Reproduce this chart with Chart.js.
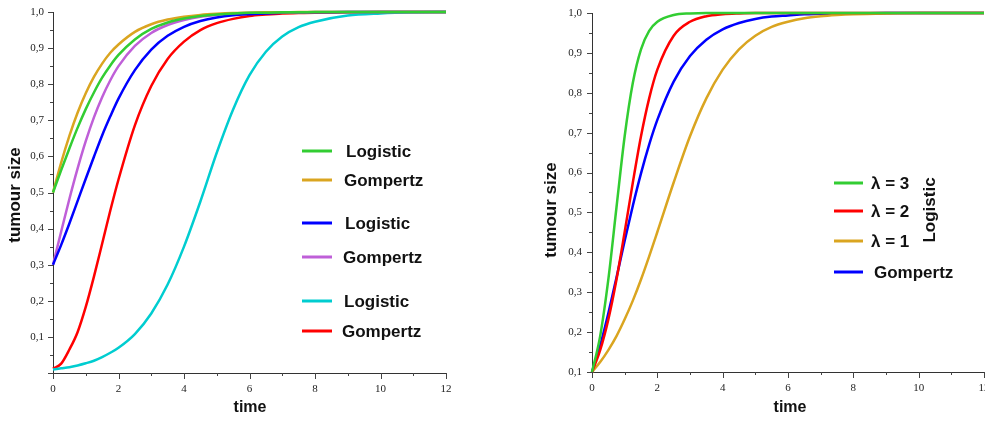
<!DOCTYPE html>
<html>
<head>
<meta charset="utf-8">
<script src="https://cdn.jsdelivr.net/npm/chart.js@4/dist/chart.umd.min.js"></script>
<style>
  html, body { margin: 0; padding: 0; background: #fff; }
  #wrap { position: relative; width: 985px; height: 421px; overflow: hidden; }
  canvas { position: absolute; top: 0; }
  #leftChart { left: 0; }
  #rightChart { left: 492px; }
</style>
</head>
<body>
<div id="wrap">
  <canvas id="leftChart" width="492" height="421"></canvas>
  <canvas id="rightChart" width="493" height="421"></canvas>
</div>
<script>
// ===== Data =====
const time = [0, 0.25, 0.5, 0.75, 1, 1.25, 1.5, 1.75, 2, 2.5, 3, 3.5, 4, 4.5, 5, 5.5, 6, 6.5, 7, 7.5, 8, 9, 10, 11, 12];

// left panel: three starting sizes, logistic vs gompertz
const logistic05 = [0.5, 0.562, 0.622, 0.679, 0.731, 0.777, 0.818, 0.852, 0.881, 0.924, 0.953, 0.971, 0.982, 0.989, 0.993, 0.996, 0.998, 0.998, 0.999, 0.999, 1, 1, 1, 1, 1];
const gompertz05 = [0.5, 0.583, 0.657, 0.721, 0.775, 0.820, 0.857, 0.887, 0.910, 0.945, 0.966, 0.979, 0.987, 0.992, 0.995, 0.997, 0.998, 0.999, 0.999, 1, 1, 1, 1, 1, 1];
const logistic03 = [0.3, 0.355, 0.414, 0.476, 0.538, 0.599, 0.658, 0.711, 0.760, 0.839, 0.896, 0.934, 0.959, 0.975, 0.985, 0.991, 0.994, 0.996, 0.998, 0.999, 0.999, 1, 1, 1, 1];
const gompertz03 = [0.3, 0.392, 0.482, 0.566, 0.642, 0.708, 0.764, 0.811, 0.850, 0.906, 0.942, 0.964, 0.978, 0.987, 0.992, 0.995, 0.997, 0.998, 0.999, 0.999, 1, 1, 1, 1, 1];
const logistic001 = [0.010, 0.013, 0.016, 0.021, 0.027, 0.034, 0.044, 0.056, 0.070, 0.108, 0.165, 0.245, 0.35, 0.475, 0.61, 0.73, 0.825, 0.89, 0.932, 0.958, 0.973, 0.99, 0.996, 0.999, 1];
const gompertz001 = [0.012, 0.026, 0.065, 0.113, 0.183, 0.267, 0.358, 0.450, 0.536, 0.686, 0.795, 0.870, 0.918, 0.950, 0.969, 0.981, 0.989, 0.993, 0.996, 0.997, 0.998, 0.999, 1, 1, 1];

// right panel: logistic with different lambda vs gompertz
const lambda3 = [0.1, 0.190, 0.332, 0.513, 0.691, 0.825, 0.909, 0.955, 0.978, 0.995, 0.999, 1, 1, 1, 1, 1, 1, 1, 1, 1, 1, 1, 1, 1, 1];
const lambda2 = [0.1, 0.155, 0.232, 0.332, 0.451, 0.575, 0.691, 0.786, 0.858, 0.943, 0.978, 0.992, 0.997, 0.999, 1, 1, 1, 1, 1, 1, 1, 1, 1, 1, 1];
const lambda1 = [0.1, 0.125, 0.155, 0.190, 0.232, 0.279, 0.332, 0.390, 0.451, 0.575, 0.691, 0.786, 0.858, 0.909, 0.943, 0.965, 0.978, 0.987, 0.992, 0.995, 0.997, 0.999, 1, 1, 1];
const gompertzRight = [0.1, 0.166, 0.247, 0.337, 0.429, 0.517, 0.598, 0.670, 0.732, 0.828, 0.892, 0.933, 0.959, 0.975, 0.985, 0.991, 0.994, 0.997, 0.998, 0.999, 0.999, 1, 1, 1, 1];

const leftLabels = ["Logistic", "Gompertz", "Logistic", "Gompertz", "Logistic", "Gompertz"];
const rightLabels = ["λ = 3", "λ = 2", "λ = 1", "Gompertz"];

const xTickLabels = ["0", "2", "4", "6", "8", "10", "12"];
const yTickLabelsLeft = ["", "0,1", "0,2", "0,3", "0,4", "0,5", "0,6", "0,7", "0,8", "0,9", "1,0"];
const yTickLabelsRight = ["0,1", "0,2", "0,3", "0,4", "0,5", "0,6", "0,7", "0,8", "0,9", "1,0"];

const GREEN = "#32cd32", ORANGE = "#daa520", BLUE = "#0000ff",
      PURPLE = "#bf5fd8", CYAN = "#00cdd0", RED = "#ff0000";

function toPoints(values) {
  return values.map((v, i) => ({ x: time[i], y: v }));
}

function series(values, color) {
  return {
    data: toPoints(values),
    borderColor: color,
    borderWidth: 2.5,
    pointRadius: 0,
    cubicInterpolationMode: "monotone",
    clip: 4
  };
}

// ticks, axis titles and the hand placed legend
function makeDecor(cfg) {
  return {
    id: "decor",
    afterDraw(chart) {
      const { ctx, chartArea, scales: { x, y } } = chart;
      ctx.save();
      ctx.strokeStyle = "#444";
      ctx.lineWidth = 1;
      ctx.beginPath();
      for (let v = 0; v <= 12; v++) {
        const px = Math.round(x.getPixelForValue(v)) + 0.5;
        const len = v % 2 ? 3 : 6;
        ctx.moveTo(px, chartArea.bottom);
        ctx.lineTo(px, chartArea.bottom + len);
      }
      for (let k = Math.round(y.min * 20); k <= Math.round(y.max * 20); k++) {
        const py = Math.round(y.getPixelForValue(k / 20)) + 0.5;
        const len = k % 2 ? 3 : 5;
        ctx.moveTo(chartArea.left, py);
        ctx.lineTo(chartArea.left - len, py);
      }
      ctx.stroke();

      // axis titles
      ctx.fillStyle = "#111";
      ctx.textAlign = "center";
      ctx.textBaseline = "middle";
      ctx.font = "bold 16px 'Liberation Sans', Arial, sans-serif";
      ctx.fillText("time", cfg.xTitle[0], cfg.xTitle[1]);
      ctx.save();
      ctx.translate(cfg.yTitle[0], cfg.yTitle[1]);
      ctx.rotate(-Math.PI / 2);
      ctx.font = "bold 17px 'Liberation Sans', Arial, sans-serif";
      ctx.fillText("tumour size", 0, 0);
      ctx.restore();

      // legend
      ctx.font = "bold 17px 'Liberation Sans', Arial, sans-serif";
      ctx.textAlign = "left";
      ctx.textBaseline = "alphabetic";
      cfg.labels.forEach((label, i) => {
        const ly = cfg.legendY[i];
        ctx.strokeStyle = chart.data.datasets[i].borderColor;
        ctx.lineWidth = 3;
        ctx.beginPath();
        ctx.moveTo(cfg.lineX[0], ly);
        ctx.lineTo(cfg.lineX[1], ly);
        ctx.stroke();
        ctx.fillStyle = "#111";
        ctx.fillText(label, cfg.textX[i], ly + 6);
      });
      if (cfg.sideLabel) {
        ctx.save();
        ctx.translate(cfg.sideLabel[0], cfg.sideLabel[1]);
        ctx.rotate(-Math.PI / 2);
        ctx.textAlign = "center";
        ctx.textBaseline = "middle";
        ctx.fillText("Logistic", 0, 0);
        ctx.restore();
      }
      ctx.restore();
    }
  };
}

function makeOptions(yMin, yLabels, padding, yWidth, xHeight, yPad) {
  const tickFont = { family: "'Liberation Serif', 'Times New Roman', serif", size: 11 };
  return {
    responsive: false,
    animation: false,
    events: [],
    layout: { padding },
    plugins: { legend: { display: false }, tooltip: { enabled: false } },
    scales: {
      x: {
        type: "linear",
        min: 0,
        max: 12,
        grid: { drawOnChartArea: false, tickLength: 5, tickColor: "rgba(0,0,0,0)" },
        border: { color: "#333", width: 1 },
        ticks: {
          stepSize: 2,
          padding: 5,
          maxRotation: 0,
          color: "#222",
          font: tickFont,
          callback: (v, i) => xTickLabels[i]
        },
        afterFit: (s) => {
          s.height = xHeight;
          s.paddingLeft = 0; s.paddingRight = 0;
        }
      },
      y: {
        type: "linear",
        min: yMin,
        max: 1,
        grid: { drawOnChartArea: false, tickLength: 5, tickColor: "rgba(0,0,0,0)" },
        border: { color: "#333", width: 1 },
        ticks: {
          stepSize: 0.1,
          padding: yPad,
          color: "#222",
          font: tickFont,
          callback: (v, i) => yLabels[i]
        },
        afterFit: (s) => {
          s.width = yWidth;
          s.paddingTop = 0; s.paddingBottom = 0;
        }
      }
    }
  };
}

new Chart(document.getElementById("leftChart"), {
  type: "line",
  data: {
    datasets: [
      series(logistic05, GREEN),
      series(gompertz05, ORANGE),
      series(logistic03, BLUE),
      series(gompertz03, PURPLE),
      series(logistic001, CYAN),
      series(gompertz001, RED)
    ]
  },
  options: makeOptions(0, yTickLabelsLeft, { left: 0, top: 12, right: 46, bottom: 0 }, 53, 48, 4),
  plugins: [makeDecor({
    labels: leftLabels,
    xTitle: [250, 408],
    yTitle: [15, 195],
    lineX: [302, 332],
    legendY: [151, 180, 223, 257, 301, 331],
    textX: [346, 344, 345, 343, 344, 342]
  })]
});

new Chart(document.getElementById("rightChart"), {
  type: "line",
  data: {
    datasets: [
      series(lambda3, GREEN),
      series(lambda2, RED),
      series(lambda1, ORANGE),
      series(gompertzRight, BLUE)
    ]
  },
  options: makeOptions(0.1, yTickLabelsRight, { left: 60, top: 13, right: 1, bottom: 0 }, 40, 49, 5),
  plugins: [makeDecor({
    labels: rightLabels,
    xTitle: [298, 408],
    yTitle: [59, 210],
    lineX: [342, 371],
    legendY: [183, 211, 241, 272],
    textX: [379, 379, 379, 382],
    sideLabel: [438, 210]
  })]
});
</script>
</body>
</html>
